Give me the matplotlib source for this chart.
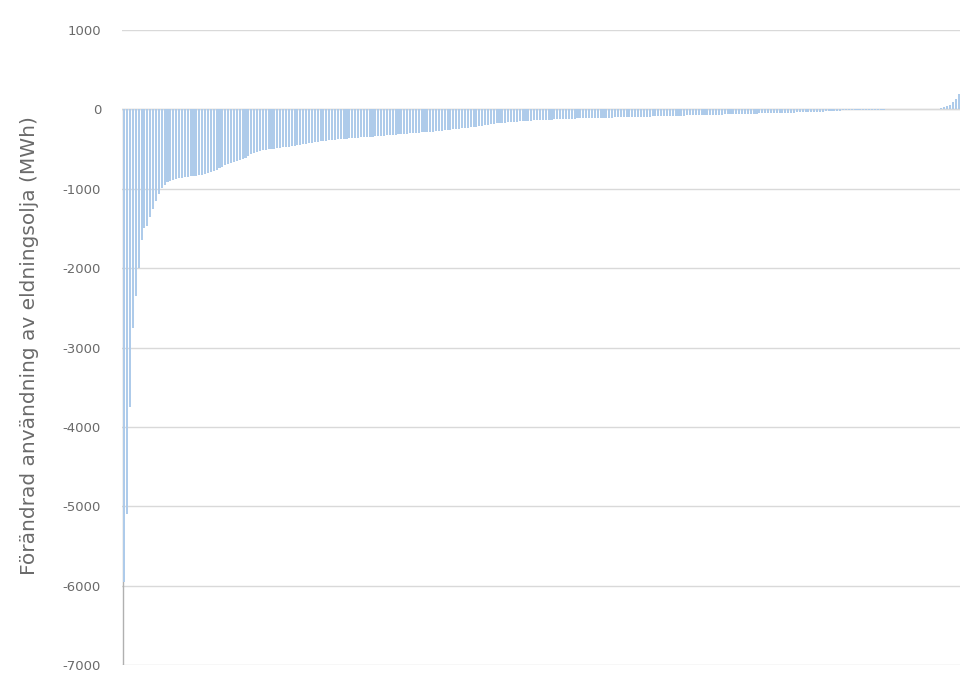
import matplotlib
matplotlib.use("Agg")
import matplotlib.pyplot as plt
import numpy as np

values = [
    -5950, -5100, -3750, -2750, -2350, -2000, -1650, -1500, -1470, -1350,
    -1250, -1150, -1060, -990, -950, -920, -900, -885, -875, -865,
    -860, -855, -850, -845, -840, -835, -830, -825, -815, -800,
    -790, -775, -760, -740, -720, -700, -685, -670, -660, -650,
    -640, -630, -610, -585, -560, -545, -535, -525, -515, -510,
    -505, -500, -495, -490, -485, -480, -475, -468, -462, -456,
    -450, -444, -438, -432, -426, -420, -414, -409, -404, -399,
    -394, -390, -386, -382, -378, -375, -372, -369, -366, -363,
    -360, -357, -354, -351, -348, -345, -342, -339, -336, -333,
    -330, -327, -324, -321, -318, -315, -312, -309, -306, -303,
    -300, -297, -294, -291, -288, -285, -282, -279, -276, -272,
    -268, -264, -260, -256, -252, -248, -244, -240, -236, -232,
    -228, -222, -216, -210, -204, -198, -192, -187, -182, -178,
    -174, -170, -166, -163, -160, -157, -154, -151, -148, -146,
    -144, -142, -140, -138, -136, -134, -132, -130, -128, -126,
    -124, -122, -120, -119, -118, -117, -116, -115, -114, -113,
    -112, -111, -110, -109, -108, -107, -106, -105, -104, -103,
    -102, -101, -100, -99, -98, -97, -96, -95, -94, -93,
    -92, -91, -90, -89, -88, -87, -86, -85, -84, -83,
    -82, -81, -80, -79, -78, -77, -76, -75, -74, -73,
    -72, -71, -70, -69, -68, -67, -66, -65, -64, -63,
    -62, -61, -60, -59, -58, -57, -56, -55, -54, -53,
    -52, -51, -50, -49, -48, -47, -46, -45, -44, -43,
    -42, -41, -40, -39, -38, -37, -36, -35, -34, -33,
    -32, -30, -28, -26, -24, -22, -20, -18, -16, -14,
    -12, -11, -10, -9, -8, -7, -6, -5, -4, -3,
    -3, -2, -2, -2, -1, -1, -1, -1, 0, 0,
    0, 0, 0, 0, 0, 1, 1, 1, 2, 2,
    3, 5, 8, 15, 25, 40, 60, 90, 130, 190,
]
y_ticks = [-7000, -6000, -5000, -4000, -3000, -2000, -1000, 0, 1000]
y_label = "Förändrad användning av eldningsolja (MWh)"

plt.rcParams['font.family'] = ['DejaVu Sans']
fig = plt.figure(figsize=(9.6, 6.77), dpi=100)
ax = fig.add_axes([0.127, 0.0177, 0.873, 0.938])

x = np.arange(len(values))
ax.bar(x, values, width=0.72, color='#aecbea', zorder=3, linewidth=0)
ax.vlines(-0.35, -7000, 0, color='#b0b0b0', lw=1, zorder=2)

ax.set_ylim(-7000, 1000)
ax.set_xlim(-0.8, len(values) - 0.5)
ax.set_yticks(y_ticks)
ax.set_yticklabels([str(v) for v in y_ticks], color='#6a6a6a', fontsize=9.5)
ax.tick_params(axis='y', length=0, pad=15)
ax.set_xticks([])
ax.grid(axis='y', color='#d9d9d9', linewidth=1, zorder=0)
for s in ax.spines.values():
    s.set_visible(False)
ax.axhline(0, color='#d9d9d9', lw=1, zorder=1)

fig.text(0.031, 0.49, y_label, rotation=90, ha='center', va='center',
         color='#6a6a6a', fontsize=14.5)

fig.savefig("out.png", dpi=100)
